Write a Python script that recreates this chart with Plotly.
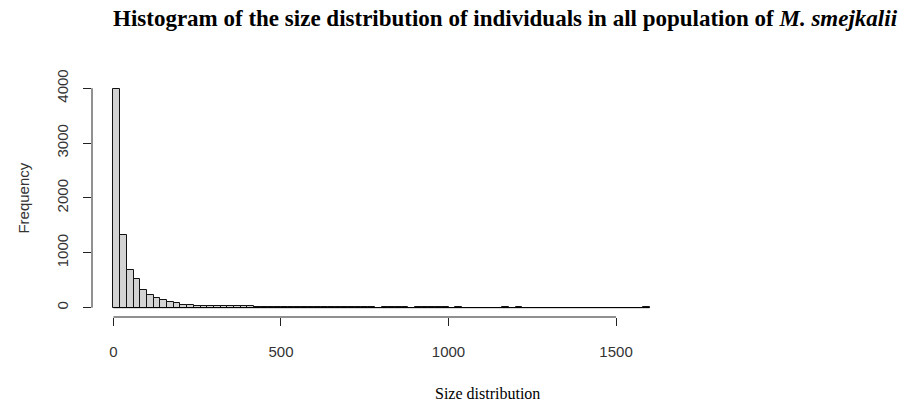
import plotly.graph_objects as go

# ---- data (bin width 20, from 0 to 1600) ----
bin_start = 0
bin_width = 20
counts = [
    3990, 1333, 694, 530, 318, 237, 183, 142, 105, 79,
    57, 55, 38, 36, 35, 33, 32, 30,
    26, 24, 22, 20, 19, 17, 16, 15, 14, 13, 12, 12, 11, 10, 10, 9, 9, 8, 8, 7, 7,
    0,
    6, 5, 6, 5,
    0,
    5, 4, 5, 4, 4, 3, 4, 3,
    0, 0, 0, 0, 0,
    4, 3, 4, 3,
    0, 0, 0, 0,
    3,
    0, 0, 0, 0, 0,
    3,
    0, 0, 0, 0, 0, 0,
    4,
]
x_ticks = [0, 500, 1000, 1500]
y_ticks = [0, 1000, 2000, 3000, 4000]
title_main = "Histogram of the size distribution of individuals in all population of "
title_species = "M. smejkalii"
x_label = "Size distribution"
y_label = "Frequency"

edges = [bin_start + i * bin_width for i in range(len(counts) + 1)]
centers = [(edges[i] + edges[i + 1]) / 2 for i in range(len(counts))]

W, H = 904, 403
L, R, T, B = 91.5, 904 - 671, 80, 403 - 317
PW, PH = W - L - R, H - T - B


def px_x(px):
    return (px - L) / PW


def px_y(py):
    return 1 - (py - T) / PH


fig = go.Figure()
# baseline formed by bar bottoms (incl. empty bins)
fig.add_trace(go.Scatter(x=[edges[0], edges[-1]], y=[0, 0], mode="lines",
                         line=dict(color="black", width=1), hoverinfo="skip",
                         showlegend=False))
fig.add_trace(go.Bar(x=centers, y=counts, width=[bin_width] * len(counts),
                     marker=dict(color="#d3d3d3", line=dict(color="#111111", width=1)),
                     showlegend=False))

tick_font = dict(family="Liberation Sans, Arial, sans-serif", size=15, color="#333333")

fig.update_layout(
    width=W, height=H,
    margin=dict(l=L, r=R, t=T, b=B, pad=0),
    plot_bgcolor="white", paper_bgcolor="white",
    bargap=0,
    xaxis=dict(range=[-64, 1664], tickvals=x_ticks, ticktext=[str(v) for v in x_ticks],
               ticks="outside", ticklen=8, tickwidth=1, tickcolor="#222",
               showline=False, showgrid=False, zeroline=False,
               tickfont=tick_font, ticklabelstandoff=13),
    yaxis=dict(range=[-170, 4150], tickvals=y_ticks, ticktext=[str(v) for v in y_ticks],
               ticks="outside", ticklen=8, tickwidth=1, tickcolor="#222",
               tickangle=-90,
               showline=False, showgrid=False, zeroline=False,
               tickfont=tick_font, ticklabelstandoff=9),
    shapes=[
        dict(type="line", xref="x", yref="paper", x0=x_ticks[0], x1=x_ticks[-1], y0=0, y1=0,
             line=dict(color="#222", width=1)),
        dict(type="line", xref="paper", yref="y", x0=0, x1=0, y0=y_ticks[0], y1=y_ticks[-1],
             line=dict(color="#222", width=1)),
    ],
    annotations=[
        dict(text="<b>" + title_main + "<i>" + title_species + "</i></b>",
             xref="paper", yref="paper", x=px_x(505), y=px_y(18),
             xanchor="center", yanchor="middle", showarrow=False,
             font=dict(family="Liberation Serif, Times New Roman, serif", size=23, color="black")),
        dict(text=y_label, xref="paper", yref="paper", x=px_x(22), y=px_y(198),
             xanchor="center", yanchor="middle", textangle=-90, showarrow=False,
             font=dict(family="Liberation Sans, Arial, sans-serif", size=15, color="#333333")),
        dict(text=x_label, xref="paper", yref="paper", x=px_x(487), y=px_y(393),
             xanchor="center", yanchor="middle", showarrow=False,
             font=dict(family="Liberation Serif, Times New Roman, serif", size=16, color="black")),
    ],
)

fig.write_html("out.html")
